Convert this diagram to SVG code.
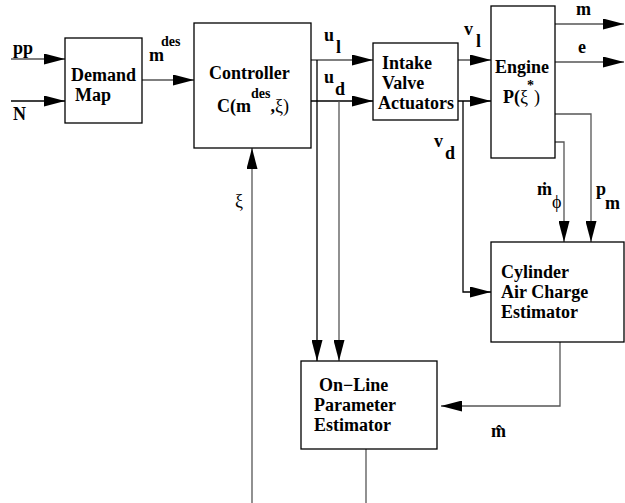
<svg xmlns="http://www.w3.org/2000/svg" width="625" height="503" viewBox="0 0 625 503">
<style>
text{font-family:"Liberation Serif","Times New Roman",serif;font-weight:bold;font-size:18px;fill:#000}
.sm{font-size:14px}
.rg{font-weight:normal}
.box{fill:#fff;stroke:#000;stroke-width:1.3}
.cn{fill:none;stroke:#555;stroke-width:1.3}
.cb{fill:none;stroke:#000;stroke-width:1.3}
</style>
<defs>
<marker id="ah" markerUnits="userSpaceOnUse" markerWidth="21" markerHeight="11" refX="21" refY="5.5" orient="auto">
<path d="M0,0 L21,5.5 L0,11 z" fill="#000"/>
</marker>
</defs>
<rect width="625" height="503" fill="#fff"/>
<g id="connectors">
<path class="cn" d="M11,59 H65" marker-end="url(#ah)"/>
<path class="cb" d="M11,101 H65" marker-end="url(#ah)"/>
<path class="cn" d="M142,80 H194" marker-end="url(#ah)"/>
<path class="cn" d="M311,60 H373" marker-end="url(#ah)"/>
<path class="cb" d="M311,101 H373" marker-end="url(#ah)"/>
<path class="cb" d="M317,60 V361" marker-end="url(#ah)"/>
<path class="cn" d="M339,101 V361" marker-end="url(#ah)"/>
<path class="cn" d="M458,60 H491" marker-end="url(#ah)"/>
<path class="cb" d="M458,101 H491" marker-end="url(#ah)"/>
<path class="cb" d="M463,101 V292 H491" marker-end="url(#ah)"/>
<path class="cn" d="M555,24 H624" marker-end="url(#ah)"/>
<path class="cn" d="M555,62 H624" marker-end="url(#ah)"/>
<path class="cn" d="M555,114 H591 V242" marker-end="url(#ah)"/>
<path class="cn" d="M555,142 H564 V242" marker-end="url(#ah)"/>
<path class="cn" d="M560,342 V406 H441" marker-end="url(#ah)"/>
<path class="cn" d="M366,449 V503"/>
<path class="cn" d="M252,503 V148" marker-end="url(#ah)"/>
</g>
<g id="labels">
<text x="13" y="54">pp</text>
<text x="13" y="120">N</text>
<text x="149" y="61">m<tspan class="sm" dx="-3" dy="-15">des</tspan></text>
<text x="324" y="41">u<tspan dx="2" dy="12">l</tspan></text>
<text x="324" y="83">u<tspan dx="1" dy="12">d</tspan></text>
<text x="464" y="35">v<tspan dx="3" dy="12">l</tspan></text>
<text x="434" y="147">v<tspan dx="2" dy="12">d</tspan></text>
<text x="576" y="15">m</text>
<text x="578" y="53">e</text>
<text x="537" y="195">ṁ<tspan class="rg" dx="0" dy="13">ϕ</tspan></text>
<text x="596" y="195">p<tspan dx="-1" dy="14">m</tspan></text>
<text class="rg" x="235" y="207">ξ</text>
<text x="491" y="437">m̂</text>
</g>
<g id="demand-map">
<rect class="box" x="65" y="38" width="77" height="85"/>
<text><tspan x="71" y="81">Demand</tspan><tspan x="75" y="101">Map</tspan></text>
</g>
<g id="controller">
<rect class="box" x="194" y="23" width="117" height="125"/>
<text x="209" y="79">Controller</text>
<text x="217" y="112">C(m<tspan class="sm" dy="-14">des</tspan><tspan dy="14">,</tspan><tspan class="rg">ξ)</tspan></text>
</g>
<g id="intake-valve-actuators">
<rect class="box" x="373" y="43" width="85" height="77"/>
<text><tspan x="382" y="69">Intake</tspan><tspan x="382" y="89">Valve</tspan><tspan x="378" y="109">Actuators</tspan></text>
</g>
<g id="engine">
<rect class="box" x="491" y="6" width="64" height="152"/>
<text x="495" y="73">Engine</text>
<text x="503" y="103">P(<tspan class="rg">ξ</tspan><tspan class="sm" dx="-1" dy="-13">*</tspan><tspan class="rg" dy="13">)</tspan></text>
</g>
<g id="cylinder-air-charge-estimator">
<rect class="box" x="491" y="242" width="133" height="100"/>
<text><tspan x="501" y="278">Cylinder</tspan><tspan x="501" y="298">Air Charge</tspan><tspan x="501" y="318">Estimator</tspan></text>
</g>
<g id="online-parameter-estimator">
<rect class="box" x="301" y="361" width="136" height="88"/>
<text><tspan x="319" y="391">On−Line</tspan><tspan x="314" y="411">Parameter</tspan><tspan x="314" y="431">Estimator</tspan></text>
</g>
</svg>
